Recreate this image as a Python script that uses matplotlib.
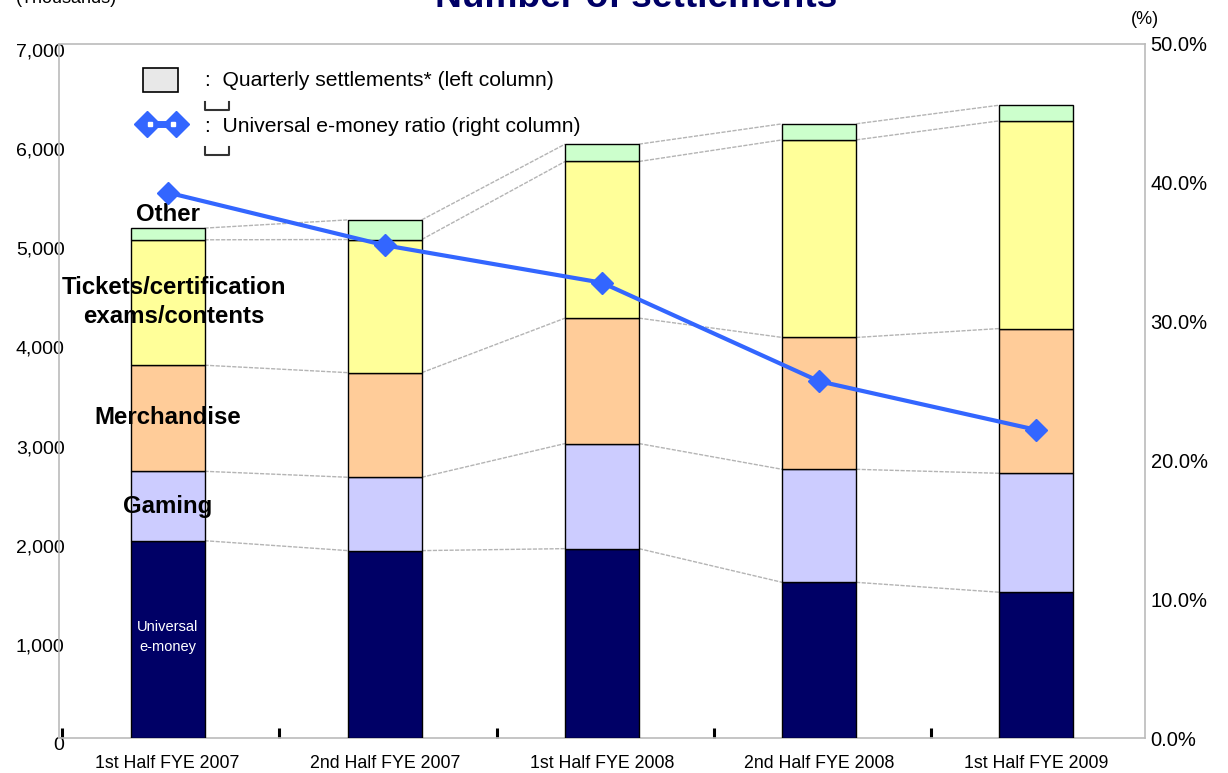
import numpy as np
import matplotlib.pyplot as plt
from matplotlib.transforms import ScaledTranslation
from matplotlib.ticker import FuncFormatter, FixedLocator
from matplotlib.patches import Rectangle
from matplotlib.lines import Line2D

plt.rcParams['font.family'] = ['Liberation Sans', 'DejaVu Sans']
NARROW = ['Liberation Sans Narrow', 'Liberation Sans', 'DejaVu Sans']

# Datos (miles de liquidaciones)
periods = ['1st Half FYE 2007', '2nd Half FYE 2007', '1st Half FYE 2008',
           '2nd Half FYE 2008', '1st Half FYE 2009']
universal = [1990, 1890, 1910, 1570, 1470]
gaming = [700, 740, 1060, 1140, 1200]
merchandise = [1070, 1055, 1265, 1330, 1460]
tickets = [1265, 1343, 1580, 1993, 2095]
other = [118, 198, 175, 162, 158]
ratio = [39.3, 35.5, 32.8, 25.7, 22.2]   # % eje derecho

segments = [universal, gaming, merchandise, tickets, other]
colors = ['#000066', '#CCCCFF', '#FFCC99', '#FFFF99', '#CCFFCC']

W, H = 1228, 773
fig = plt.figure(figsize=(W / 100, H / 100), dpi=100)
ax = fig.add_axes([59 / W, 1 - 738 / H, (1145 - 59) / W, (738 - 44) / H])

x = np.arange(len(periods))
bw = 0.34
bottom = np.zeros(len(periods))
levels = []
for vals, col in zip(segments, colors):
    ax.bar(x, vals, bw, bottom=bottom, color=col, edgecolor='black', linewidth=1.0, zorder=3)
    bottom = bottom + np.array(vals)
    levels.append(bottom.copy())

# lineas de serie entre columnas
for lev in levels:
    for i in range(len(x) - 1):
        ax.plot([x[i] + bw / 2, x[i + 1] - bw / 2], [lev[i], lev[i + 1]],
                color='#B4B4B4', lw=1.0, ls=(0, (3, 1)), zorder=2)

ax.set_xlim(-0.5, len(periods) - 0.5)
ax.set_ylim(0, 7000)
ax.set_yticks(np.arange(0, 7001, 1000))
ax.yaxis.set_major_formatter(FuncFormatter(lambda v, p: f'{int(v):,}'))
ax.tick_params(axis='y', length=0, pad=-4, labelsize=14)
for lab in ax.get_yticklabels():
    lab.set_transform(lab.get_transform() + ScaledTranslation(0, -0.06, fig.dpi_scale_trans))

ax.set_xticks(x)
ax.set_xticklabels(periods, fontfamily=NARROW, fontsize=12.8)
ax.tick_params(axis='x', length=0, pad=12)
ax.xaxis.set_minor_locator(FixedLocator(np.arange(-0.5, len(periods), 1.0) + 0.015))
ax.tick_params(axis='x', which='minor', direction='in', length=7, width=2.2, color='black')

for s in ax.spines.values():
    s.set_color('#BBBBBB')
    s.set_linewidth(1.2)

# eje derecho: ratio
ax2 = ax.twinx()
ax2.set_ylim(0, 50)
ax2.set_yticks(np.arange(0, 51, 10))
ax2.yaxis.set_major_formatter(FuncFormatter(lambda v, p: f'{v:.1f}%'))
ax2.tick_params(axis='y', length=0, pad=4, labelsize=14.5)
for s in ax2.spines.values():
    s.set_visible(False)
ax2.plot(x, ratio, color='#3366FF', lw=3, marker='D', markersize=11, zorder=5)

# etiquetas de categorias
lab_kw = dict(ha='center', va='center', fontsize=17.3, fontweight='bold', zorder=6)
ax.text(0, 5283, 'Other', **lab_kw)
ax.text(0.03, 4400, 'Tickets/certification\nexams/contents', linespacing=1.35, **lab_kw)
ax.text(0, 3232, 'Merchandise', **lab_kw)
ax.text(0, 2333, 'Gaming', **lab_kw)
ax.text(0, 1020, 'Universal\ne-money', ha='center', va='center', color='white',
        fontsize=10.5, fontfamily=NARROW, linespacing=1.5, zorder=6)

# leyenda manual (coordenadas de pixel de la figura)
def fx(px):
    return px / W

def fy(py):
    return 1 - py / H

fig.patches.append(Rectangle((fx(143), fy(92)), fx(178) - fx(143), fy(68) - fy(92),
                             transform=fig.transFigure, facecolor='#E8E8E8',
                             edgecolor='black', lw=1.2))
fig.text(fx(205), fy(80), ':  Quarterly settlements* (left column)', fontsize=15.2, va='center')
fig.add_artist(Line2D([fx(147), fx(176)], [fy(124), fy(124)], transform=fig.transFigure,
                      color='#3366FF', lw=5, marker='D', markersize=13,
                      markerfacecolor='#3366FF', markeredgecolor='#3366FF'))
fig.add_artist(Line2D([fx(150), fx(173)], [fy(124), fy(124)], transform=fig.transFigure,
                      ls='none', marker='s', markersize=3.5,
                      markerfacecolor='white', markeredgecolor='white'))
fig.text(fx(205), fy(127), ':  Universal e-money ratio (right column)', fontsize=15.2, va='center')
for py in (102, 147):
    fig.add_artist(Line2D([fx(205), fx(205), fx(229), fx(229)],
                          [fy(py), fy(py + 8), fy(py + 8), fy(py)],
                          transform=fig.transFigure, color='#333333', lw=1.5))

# titulo y unidades (recortados en el borde superior)
fig.text(fx(636), fy(7), 'Number of settlements', ha='center', va='baseline',
         fontsize=26.7, fontweight='bold', color='#000066')
fig.text(fx(117), fy(3), '(Thousands)', ha='right', va='baseline', fontsize=13)
fig.text(fx(1145), fy(20), '(%)', ha='center', va='center', fontsize=13)

fig.savefig('out.png', dpi=100)
